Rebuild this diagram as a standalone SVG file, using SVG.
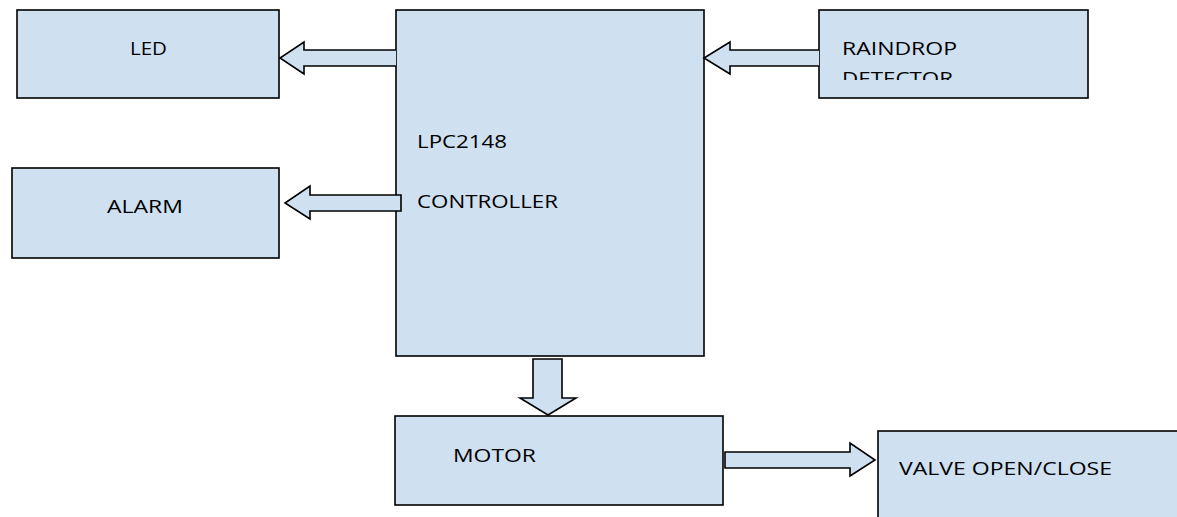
<svg xmlns="http://www.w3.org/2000/svg" width="1177" height="517" viewBox="0 0 1177 517">
<style>
.box{fill:#cfe0f1;stroke:#000;stroke-width:1.6}
.arr{fill:#cfe0f1;stroke:#000;stroke-width:1.6;stroke-linejoin:miter}
.t{font-family:"Open Sans","Liberation Sans",sans-serif;font-size:18.5px;fill:#000}
</style>
<defs>
<clipPath id="clipRain"><rect x="819" y="10" width="269" height="70"/></clipPath>
</defs>
<rect width="1177" height="517" fill="#fff"/>
<g id="led">
<rect class="box" x="17" y="10" width="262" height="88"/>
<text class="t" x="130" y="55" textLength="37" lengthAdjust="spacingAndGlyphs">LED</text>
</g>
<g id="controller">
<rect class="box" x="396" y="10" width="308" height="346"/>
<text class="t" x="417" y="148" textLength="90" lengthAdjust="spacingAndGlyphs">LPC2148</text>
<text class="t" x="417" y="208" textLength="141" lengthAdjust="spacingAndGlyphs">CONTROLLER</text>
</g>
<g id="raindrop">
<rect class="box" x="819" y="10" width="269" height="88"/>
<g clip-path="url(#clipRain)">
<text class="t" x="842" y="55" textLength="115" lengthAdjust="spacingAndGlyphs">RAINDROP</text>
<text class="t" x="842" y="85" textLength="111" lengthAdjust="spacingAndGlyphs">DETECTOR</text>
</g>
</g>
<g id="alarm">
<rect class="box" x="12" y="168" width="267" height="90"/>
<text class="t" x="107" y="213" textLength="76" lengthAdjust="spacingAndGlyphs">ALARM</text>
</g>
<g id="motor">
<rect class="box" x="395" y="416" width="328" height="89"/>
<text class="t" x="453" y="462" textLength="83" lengthAdjust="spacingAndGlyphs">MOTOR</text>
</g>
<g id="valve">
<rect class="box" x="878" y="431" width="310" height="100"/>
<text class="t" x="899" y="475" textLength="213" lengthAdjust="spacingAndGlyphs">VALVE OPEN/CLOSE</text>
</g>
<g id="connectors">
<path class="arr" d="M396,50 L304,50 L304,42 L280,58 L304,74 L304,66 L396,66"/>
<path class="arr" d="M819,50 L730,50 L730,42 L704,58 L730,74 L730,66 L819,66"/>
<path class="arr" d="M401,195 L310,195 L310,186 L285,203 L310,219 L310,211 L401,211 Z"/>
<path class="arr" d="M533,359 L562,359 L562,398 L576,398 L548,415 L520,398 L533,398 Z"/>
<path class="arr" d="M725,452 L850,452 L850,443 L875,460 L850,476 L850,468 L725,468 Z"/>
</g>
</svg>
